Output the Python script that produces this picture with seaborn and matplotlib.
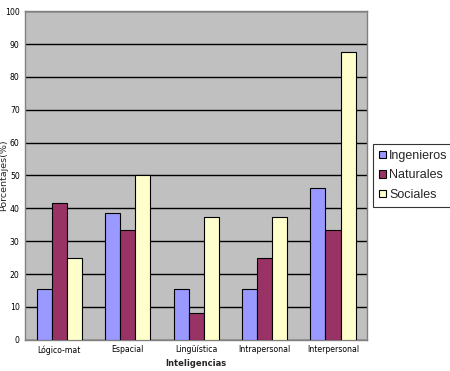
import pandas as pd
import matplotlib.pyplot as plt
import seaborn as sns

# Datos
categorias = ["Lógico-mat", "Espacial", "Lingüística", "Intrapersonal", "Interpersonal"]
ingenieros = [15.4, 38.5, 15.4, 15.4, 46.2]
naturales = [41.7, 33.3, 8.3, 25.0, 33.3]
sociales = [25.0, 50.0, 37.5, 37.5, 87.5]
grupos = ["Ingenieros", "Naturales", "Sociales"]
colores = ["#9999FF", "#993366", "#FFFFCC"]

df = pd.DataFrame({"Inteligencia": categorias,
                   "Ingenieros": ingenieros,
                   "Naturales": naturales,
                   "Sociales": sociales})
df_long = df.melt(id_vars="Inteligencia", var_name="Grupo", value_name="Porcentaje")

sns.set_style("white")
plt.rcParams['font.family'] = ['DejaVu Sans']

fig = plt.figure(figsize=(4.5, 3.71), dpi=100)
ax = fig.add_axes([0.056, 0.084, 0.76, 0.886])
ax.set_facecolor("#C0C0C0")

sns.barplot(data=df_long, x="Inteligencia", y="Porcentaje", hue="Grupo",
            hue_order=grupos, palette=colores, width=0.66, saturation=1,
            edgecolor="black", linewidth=0.8, ax=ax, zorder=3)

ax.set_ylim(0, 100)
ax.set_yticks(range(0, 101, 10))
ax.yaxis.grid(True, color="black", linewidth=1, zorder=0)
ax.set_axisbelow(True)
ax.tick_params(axis="both", labelsize=5.6, length=2, colors="black", pad=2)
ax.set_xlabel("Inteligencias", fontsize=6, fontweight="bold", labelpad=3)
ax.set_ylabel("Porcentajes(%)", fontsize=6.8)
ax.yaxis.set_label_coords(-0.05, 0.5)
for s in ax.spines.values():
    s.set_color("#808080")
    s.set_linewidth(1)

leg = ax.legend(loc="upper left", bbox_to_anchor=(1.018, 0.595), frameon=True,
                fancybox=False, edgecolor="black",
                prop={"family": "Liberation Sans", "size": 9},
                handlelength=0.6, handleheight=0.6, handletextpad=0.2,
                borderpad=0.45, labelspacing=0.6, borderaxespad=0)
leg.get_frame().set_linewidth(0.8)

fig.savefig("out.png", dpi=100)
